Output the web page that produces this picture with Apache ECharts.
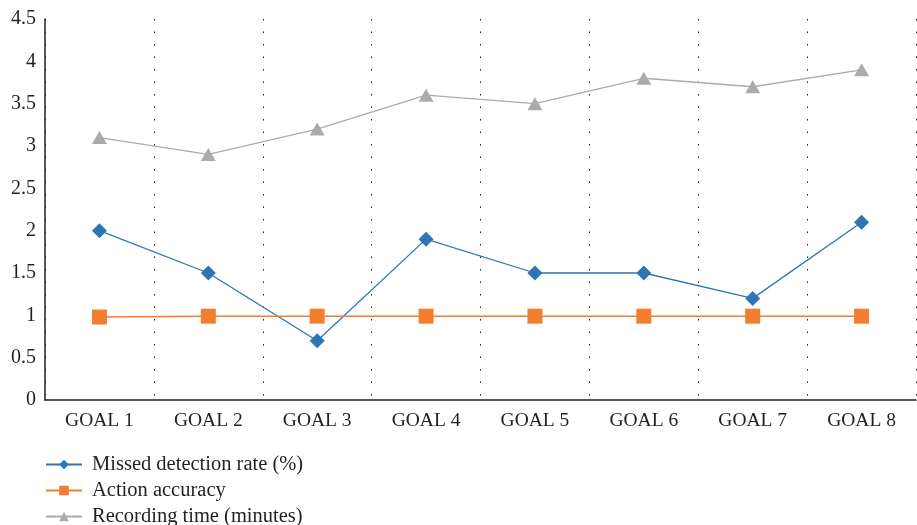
<!DOCTYPE html>
<html>
<head>
<meta charset="utf-8">
<script src="https://cdn.jsdelivr.net/npm/echarts@6/dist/echarts.min.js"></script>
<style>
html,body{margin:0;padding:0;background:#fff;}
#chart{width:917px;height:525px;}
</style>
</head>
<body>
<div id="chart"></div>
<script>
// Categories and series values
const goals = ['GOAL 1','GOAL 2','GOAL 3','GOAL 4','GOAL 5','GOAL 6','GOAL 7','GOAL 8'];
const missedDetection = [2.0, 1.5, 0.7, 1.9, 1.5, 1.5, 1.2, 2.1];
const actionAccuracy = [0.98, 0.99, 0.99, 0.99, 0.99, 0.99, 0.99, 0.99];
const recordingTime = [3.1, 2.9, 3.2, 3.6, 3.5, 3.8, 3.7, 3.9];
const seriesNames = ['Missed detection rate (%)', 'Action accuracy', 'Recording time (minutes)'];

const font = '"Liberation Serif", "DejaVu Serif", serif';
const chart = echarts.init(document.getElementById('chart'));
chart.setOption({
  animation: false,
  textStyle: { fontFamily: font },
  grid: { left: 45, right: 1, top: 19, bottom: 125, containLabel: false },
  legend: {
    orient: 'vertical',
    left: 45,
    top: 454,
    height: 80,
    padding: 0,
    itemWidth: 36,
    itemHeight: 12,
    itemGap: 5,
    textStyle: { fontFamily: font, fontSize: 20.5, color: '#231f20', padding: [0, 0, 0, 5] },
    data: seriesNames
  },
  xAxis: {
    type: 'category',
    data: goals,
    boundaryGap: true,
    axisLine: { show: true, lineStyle: { color: '#231f20', width: 1.5 } },
    axisTick: { show: false },
    axisLabel: { fontFamily: font, fontSize: 19.5, color: '#231f20', margin: 11 },
    splitLine: { show: true, lineStyle: { color: '#231f20', width: 1, type: [1.5, 11] } }
  },
  yAxis: {
    type: 'value',
    min: 0, max: 4.5, interval: 0.5,
    axisLine: { show: true, lineStyle: { color: '#231f20', width: 1.5 } },
    axisTick: { show: false },
    splitLine: { show: false },
    axisLabel: { fontFamily: font, fontSize: 20, color: '#231f20', margin: 9 }
  },
  series: [
    {
      name: seriesNames[0], type: 'line', data: missedDetection,
      symbol: 'diamond', symbolSize: 15,
      itemStyle: { color: '#2E75B6' },
      lineStyle: { color: '#2E75B6', width: 1.3 }
    },
    {
      name: seriesNames[1], type: 'line', data: actionAccuracy,
      symbol: 'rect', symbolSize: 15,
      itemStyle: { color: '#F47E30' },
      lineStyle: { color: '#F47E30', width: 1.5 }
    },
    {
      name: seriesNames[2], type: 'line', data: recordingTime,
      symbol: 'triangle', symbolSize: [15, 13],
      itemStyle: { color: '#ABABAD' },
      lineStyle: { color: '#ABABAD', width: 1.3 }
    }
  ]
});
</script>
</body>
</html>
